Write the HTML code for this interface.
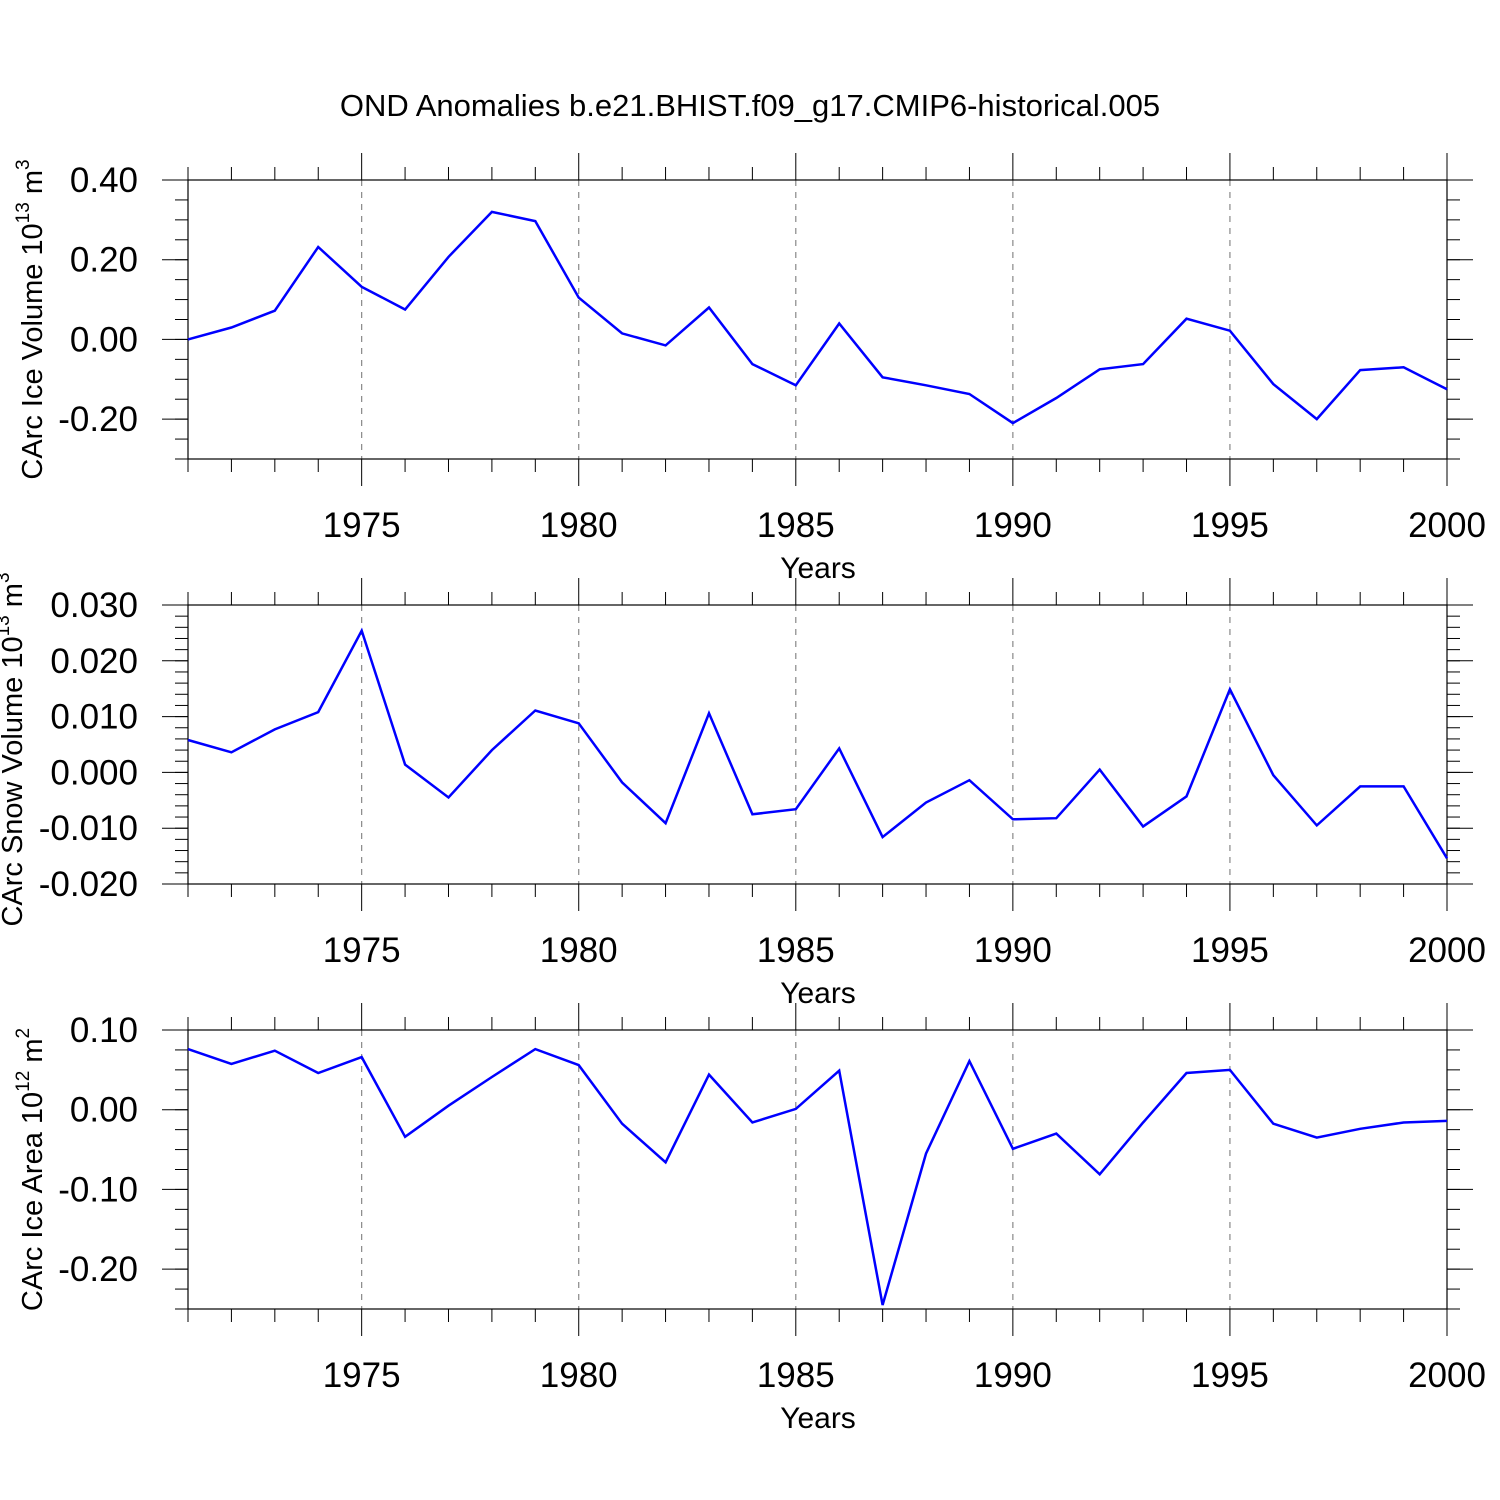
<!DOCTYPE html>
<html><head><meta charset="utf-8"><style>
html,body{margin:0;padding:0;background:#fff}
svg{display:block;font-family:"Liberation Sans",sans-serif}
</style></head><body>
<svg id="s" width="1500" height="1500" xmlns="http://www.w3.org/2000/svg">
<text x="750" y="116" font-size="31" text-anchor="middle">OND Anomalies b.e21.BHIST.f09_g17.CMIP6-historical.005</text>
</svg>
<script>
const years = [1971,1972,1973,1974,1975,1976,1977,1978,1979,1980,1981,1982,1983,1984,1985,1986,1987,1988,1989,1990,1991,1992,1993,1994,1995,1996,1997,1998,1999,2000];
const iceVolume = [0,0.03,0.072,0.232,0.132,0.075,0.207,0.32,0.297,0.105,0.015,-0.015,0.08,-0.062,-0.115,0.04,-0.095,-0.115,-0.137,-0.21,-0.147,-0.075,-0.062,0.052,0.022,-0.112,-0.2,-0.077,-0.07,-0.125];
const snowVolume = [0.0058,0.0036,0.0077,0.0108,0.0254,0.0014,-0.0045,0.004,0.0111,0.0088,-0.0018,-0.0091,0.0106,-0.0075,-0.0066,0.0043,-0.0116,-0.0054,-0.0014,-0.0084,-0.0082,0.0005,-0.0097,-0.0043,0.0149,-0.0005,-0.0095,-0.0025,-0.0025,-0.0154];
const iceArea = [0.076,0.0575,0.074,0.046,0.066,-0.034,0.005,0.041,0.076,0.056,-0.0175,-0.066,0.044,-0.016,0.001,0.049,-0.245,-0.055,0.061,-0.049,-0.03,-0.081,-0.016,0.046,0.05,-0.0175,-0.035,-0.024,-0.016,-0.014];
const xTicks = [1975,1980,1985,1990,1995,2000];
const volTicks = [0.4,0.2,0,-0.2];
const snowTicks = [0.03,0.02,0.01,0,-0.01,-0.02];
const areaTicks = [0.1,0,-0.1,-0.2];

const svg=document.getElementById('s');
const NS='http://www.w3.org/2000/svg';
function mk(tag,attrs,parent){const e=document.createElementNS(NS,tag);for(const k in attrs)e.setAttribute(k,attrs[k]);(parent||svg).appendChild(e);return e;}
const L=188,R=1447;
const xs=y=>L+(y-1971)*(R-L)/29;

const panels=[
 {name:'ice-volume',top:180,ymin:-0.3,ymax:0.4,data:iceVolume,ticks:volTicks,minor:0.05,dec:2,tx:42,label:'CArc Ice Volume 10',sup:'13',unit:' m',usup:'3'},
 {name:'snow-volume',top:605,ymin:-0.02,ymax:0.03,data:snowVolume,ticks:snowTicks,minor:0.002,dec:3,tx:22,label:'CArc Snow Volume 10',sup:'13',unit:' m',usup:'3'},
 {name:'ice-area',top:1030,ymin:-0.25,ymax:0.1,data:iceArea,ticks:areaTicks,minor:0.025,dec:2,tx:42,label:'CArc Ice Area 10',sup:'12',unit:' m',usup:'2'}
];
panels.forEach(p=>{
 const T=p.top,B=T+279;
 const ys=v=>B-(v-p.ymin)/(p.ymax-p.ymin)*(B-T);
 const g=mk('g',{});
 
 
 xTicks.slice(0,5).forEach(y=>{const l=mk('line',{x1:xs(y),x2:xs(y),y1:T,y2:B,stroke:'#888','stroke-width':1.2,'stroke-dasharray':'6,6'},g);
  });
 years.forEach(y=>{const maj=y%5===0;const x=xs(y);const len=maj?27:13;
  mk('line',{x1:x,x2:x,y1:T-len,y2:T,stroke:'#000','stroke-width':1},g);
  mk('line',{x1:x,x2:x,y1:B,y2:B+len,stroke:'#000','stroke-width':1},g);});
 xTicks.forEach(y=>{const t=mk('text',{x:xs(y),y:B+78,'font-size':35,'text-anchor':'middle'},g);t.textContent=y;
  });
 const n=Math.floor((p.ymax-p.ymin)/p.minor+1e-6);
 for(let i=0;i<=n;i++){const v=p.ymax-i*p.minor;const yy=ys(v);
  mk('line',{x1:L-13,x2:L,y1:yy,y2:yy,stroke:'#000','stroke-width':1},g);
  mk('line',{x1:R,x2:R+13,y1:yy,y2:yy,stroke:'#000','stroke-width':1},g);}
 p.ticks.forEach(v=>{const yy=ys(v);
  mk('line',{x1:L-26,x2:L,y1:yy,y2:yy,stroke:'#000','stroke-width':1},g);
  mk('line',{x1:R,x2:R+26,y1:yy,y2:yy,stroke:'#000','stroke-width':1},g);
  const t=mk('text',{x:138,y:yy+12,'font-size':35,'text-anchor':'end'},g);t.textContent=v.toFixed(p.dec);
  });
 const fr=mk('rect',{x:L,y:T,width:R-L,height:B-T,fill:'none',stroke:'#000','stroke-width':1.2},g);
 
 const pts=p.data.map((v,i)=>xs(years[i]).toFixed(1)+','+ys(v).toFixed(1)).join(' ');
 const pl=mk('polyline',{points:pts,fill:'none',stroke:'#0000ff','stroke-width':2.5,'stroke-linejoin':'miter'},g);
 
 const xt=mk('text',{x:818,y:B+119,'font-size':30,'text-anchor':'middle'},g);xt.textContent='Years';
 
 const cy=(T+B)/2+(p.name==='snow-volume'?5:0);
 const yt=mk('text',{x:0,y:0,'font-size':29,'text-anchor':'middle',transform:'translate('+p.tx+','+cy+') rotate(-90)'},g);
 
 yt.appendChild(document.createTextNode(p.label));
 const s1=mk('tspan',{dy:-13,'font-size':19},yt);s1.textContent=p.sup;
 const s2=mk('tspan',{dy:13},yt);s2.textContent=p.unit;
 const s3=mk('tspan',{dy:-13,'font-size':19},yt);s3.textContent=p.usup;
});
</script>
</body></html>
